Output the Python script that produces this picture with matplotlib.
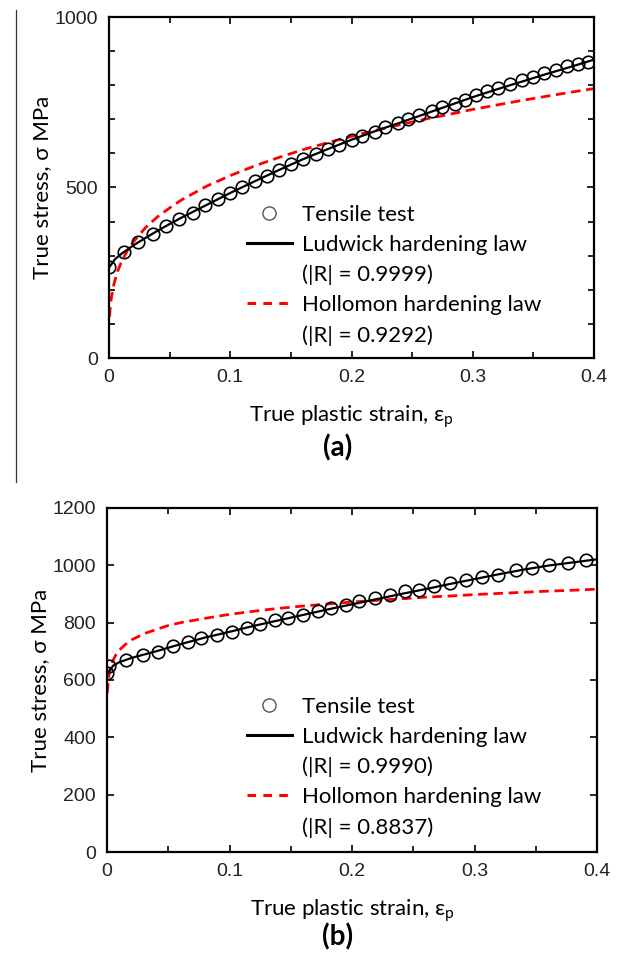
import numpy as np
import matplotlib.pyplot as plt
from matplotlib.lines import Line2D
from matplotlib.ticker import MultipleLocator

LABEL_FONT = ['Lato', 'DejaVu Sans']
TICK_FONT = ['Liberation Sans', 'DejaVu Sans']

# ---- panel (a) ----
a_test_eps = [0.0, 0.012, 0.024, 0.036, 0.047, 0.058, 0.069, 0.079, 0.09, 0.1,
              0.11, 0.12, 0.13, 0.14, 0.15, 0.16, 0.171, 0.181, 0.19, 0.2,
              0.209, 0.219, 0.228, 0.238, 0.247, 0.256, 0.266, 0.275, 0.285, 0.294,
              0.303, 0.312, 0.321, 0.331, 0.341, 0.35, 0.359, 0.369, 0.378, 0.387, 0.395]
a_test_sig = [266, 310, 341, 363, 388, 409, 426, 448, 467, 484,
              502, 518, 535, 552, 569, 583, 599, 612, 624, 640,
              651, 664, 678, 688, 700, 712, 725, 736, 746, 758,
              770, 782, 793, 804, 814, 824, 835, 846, 855, 862, 868]
a_lud_eps = [0, 0.005, 0.01, 0.02, 0.03, 0.04, 0.05, 0.06, 0.08, 0.1, 0.12, 0.14,
             0.16, 0.18, 0.2, 0.22, 0.24, 0.26, 0.28, 0.3, 0.32, 0.34, 0.36, 0.38, 0.4]
a_lud_sig = [265, 290, 305, 330, 352, 373, 393, 412, 448, 484, 518, 551,
             583, 612, 640, 666, 690, 715, 740, 765, 788, 810, 832, 853, 875]
a_hol_eps = [0.0005, 0.001, 0.002, 0.004, 0.007, 0.01, 0.015, 0.02, 0.03, 0.04, 0.05,
             0.06, 0.08, 0.1, 0.12, 0.14, 0.16, 0.18, 0.2, 0.22, 0.24, 0.26, 0.28,
             0.3, 0.32, 0.34, 0.36, 0.38, 0.4]
a_hol_sig = [121, 147, 178, 216, 253, 280, 314, 340, 382, 414, 440,
             464, 503, 535, 563, 588, 611, 631, 650, 668, 684, 700, 714,
             729, 742, 755, 767, 779, 790]
a_r = ['(|R| = 0.9999)', '(|R| = 0.9292)']

# ---- panel (b) ----
b_test_eps = [0.0, 0.002, 0.0153, 0.029, 0.042, 0.054, 0.066, 0.077, 0.09, 0.102,
              0.114, 0.125, 0.137, 0.148, 0.16, 0.172, 0.183, 0.195, 0.206, 0.219,
              0.231, 0.243, 0.255, 0.267, 0.28, 0.293, 0.306, 0.319, 0.334, 0.347,
              0.361, 0.376, 0.391]
b_test_sig = [626, 648, 670, 688, 699, 717, 732, 746, 758, 769,
              781, 796, 808, 816, 828, 839, 851, 862, 874, 886,
              897, 909, 915, 929, 938, 948, 959, 967, 985, 991,
              1002, 1008, 1020]
b_lud_eps = [0, 0.005, 0.01, 0.02, 0.04, 0.06, 0.08, 0.1, 0.12, 0.14, 0.16, 0.18,
             0.2, 0.22, 0.24, 0.26, 0.28, 0.3, 0.32, 0.34, 0.36, 0.38, 0.4]
b_lud_sig = [620, 650, 662, 677, 700, 725, 748, 768, 789, 808, 827, 846,
             864, 882, 900, 917, 935, 952, 969, 985, 999, 1010, 1021]
b_hol_eps = [0.0003, 0.001, 0.002, 0.004, 0.007, 0.01, 0.015, 0.02, 0.03, 0.04, 0.05,
             0.06, 0.08, 0.1, 0.12, 0.14, 0.16, 0.18, 0.2, 0.22, 0.24, 0.26, 0.28,
             0.3, 0.32, 0.34, 0.36, 0.38, 0.4]
b_hol_sig = [555, 597, 628, 660, 686, 704, 724, 740, 761, 776, 790,
             800, 815, 829, 840, 850, 858, 865, 872, 878, 883, 889, 893,
             898, 902, 906, 910, 913, 917]
b_r = ['(|R| = 0.9990)', '(|R| = 0.8837)']

x_ticks = [0, 0.1, 0.2, 0.3, 0.4]
x_ticklabels = ['0', '0.1', '0.2', '0.3', '0.4']

fig = plt.figure(figsize=(6.19, 9.55), dpi=100)
W, H = 619, 955


def px_axes(l, t, r, b):
    return fig.add_axes([l / W, 1 - b / H, (r - l) / W, (b - t) / H])


def draw_panel(ax, t_eps, t_sig, l_eps, l_sig, h_eps, h_sig, rvals, ymax, ymajor, yminor,
               leg_x, leg_y, tag, tag_y):
    ax.plot(h_eps, h_sig, color='#ff0000', lw=2.0, dashes=(3.5, 2.0), zorder=2)
    ax.plot(l_eps, l_sig, color='black', lw=1.6, zorder=3)
    ax.plot(t_eps, t_sig, 'o', mfc='none', mec='black', ms=9, mew=1.2, zorder=4)

    ax.set_xlim(0, 0.4)
    ax.set_ylim(0, ymax)
    ax.set_xticks(x_ticks)
    ax.set_xticklabels(x_ticklabels)
    ax.yaxis.set_major_locator(MultipleLocator(ymajor))
    ax.xaxis.set_minor_locator(MultipleLocator(0.05))
    if yminor:
        ax.yaxis.set_minor_locator(MultipleLocator(yminor))
    ax.tick_params(which='both', direction='in', top=True, right=True, width=1.2)
    ax.tick_params(which='major', length=5, pad=8, labelsize=14, labelcolor='#222222')
    ax.tick_params(which='minor', length=4)
    for lab in ax.get_xticklabels() + ax.get_yticklabels():
        lab.set_family(TICK_FONT)
    for sp in ax.spines.values():
        sp.set_linewidth(1.6)

    ax.set_xlabel('True plastic strain, ε$_\\mathregular{p}$', family=LABEL_FONT, fontsize=16, labelpad=12)
    ax.set_ylabel('True stress, σ MPa', family=LABEL_FONT, fontsize=16, labelpad=2)

    handles = [
        Line2D([], [], ls='none', marker='o', mfc='none', mec='#555555', ms=9.5, mew=1.0),
        Line2D([], [], color='black', lw=2.2),
        Line2D([], [], ls='none'),
        Line2D([], [], color='#ff0000', lw=2.2, dashes=(2.8, 2.4)),
        Line2D([], [], ls='none'),
    ]
    labels = ['Tensile test', 'Ludwick hardening law', rvals[0], 'Hollomon hardening law', rvals[1]]
    ax.legend(handles, labels, loc='upper left', bbox_to_anchor=(leg_x, leg_y),
              frameon=False, borderpad=0, borderaxespad=0, handlelength=2.0,
              handletextpad=0.45, labelspacing=0.45,
              prop={'family': LABEL_FONT, 'size': 16})

    fig.text(338 / W, 1 - tag_y / H, tag, ha='center', va='center',
             family=LABEL_FONT, fontsize=20, fontweight='bold')


ax_a = px_axes(109, 17, 594, 358)
draw_panel(ax_a, a_test_eps, a_test_sig, a_lud_eps, a_lud_sig, a_hol_eps, a_hol_sig,
           a_r, 1000, 500, 100, 0.285, 0.45, '(a)', 448)

ax_b = px_axes(107, 508, 597, 852)
draw_panel(ax_b, b_test_eps, b_test_sig, b_lud_eps, b_lud_sig, b_hol_eps, b_hol_sig,
           b_r, 1200, 200, None, 0.286, 0.452, '(b)', 937)

# thin separator line at the left of the upper panel
fig.add_artist(Line2D([15.5 / W, 15.5 / W], [1 - 10 / H, 1 - 482 / H], color='#333333', lw=0.9))

fig.savefig('out.png', dpi=100)
